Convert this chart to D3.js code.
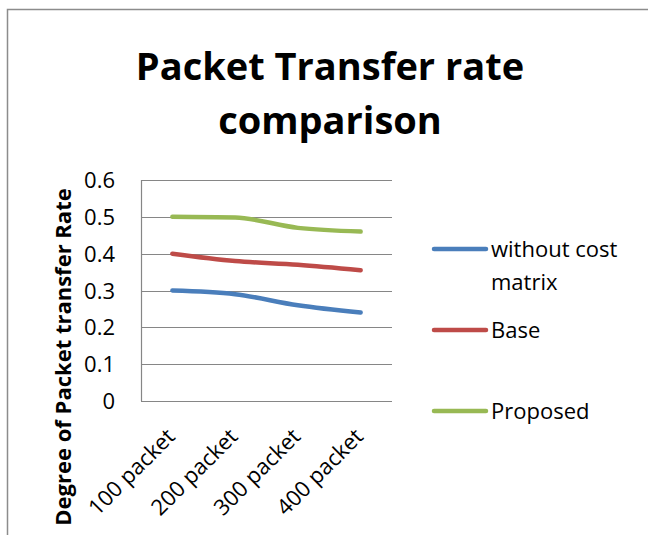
<!DOCTYPE html>
<html>
<head>
<meta charset="utf-8">
<script src="https://cdn.jsdelivr.net/npm/d3@7/dist/d3.min.js"></script>
<style>
  html, body { margin: 0; padding: 0; background: #fff; overflow: hidden; }
  svg { display: block; }
  text { font-family: "Open Sans", "Noto Sans", sans-serif; fill: #000; }
</style>
</head>
<body>
<svg id="chart" width="648" height="535"></svg>
<script>
// Data
const categories = ["100 packet", "200 packet", "300 packet", "400 packet"];
const seriesNames = ["without cost matrix", "Base", "Proposed"];
const withoutCost = [0.30, 0.29, 0.26, 0.24];
const base = [0.40, 0.38, 0.37, 0.355];
const proposed = [0.50, 0.498, 0.47, 0.46];
const yTicks = [0, 0.1, 0.2, 0.3, 0.4, 0.5, 0.6];
const colors = ["#4a7ebb", "#be4b48", "#98b954"];

const svg = d3.select("#chart");
const W = 648, H = 535;
const plot = { left: 141, right: 392, top: 180, bottom: 401 };

// Outer chart frame (top and left edges are visible)
svg.append("path")
  .attr("d", `M7.5,${H + 20}V9.5H${W + 50}`)
  .attr("fill", "none").attr("stroke", "#8c8c8c").attr("stroke-width", 1.5);

// Title
const title = svg.append("text")
  .attr("text-anchor", "middle")
  .attr("font-weight", "bold")
  .attr("font-size", 38);
title.append("tspan").attr("x", 330).attr("y", 80).text("Packet Transfer rate");
title.append("tspan").attr("x", 330).attr("y", 134).text("comparison");

const x = d3.scaleBand().domain(categories).range([plot.left, plot.right]);
const y = d3.scaleLinear().domain([0, 0.6]).range([plot.bottom, plot.top]);

// Gridlines
svg.append("g")
  .selectAll("line")
  .data(yTicks.filter(t => t > 0))
  .join("line")
  .attr("x1", plot.left).attr("x2", plot.right)
  .attr("y1", d => Math.round(y(d)) + 0.5).attr("y2", d => Math.round(y(d)) + 0.5)
  .attr("stroke", "#868686").attr("stroke-width", 1.2);

// Axis lines
svg.append("line")
  .attr("x1", plot.left + 0.5).attr("x2", plot.left + 0.5)
  .attr("y1", plot.top).attr("y2", plot.bottom)
  .attr("stroke", "#868686").attr("stroke-width", 1.2);
svg.append("line")
  .attr("x1", plot.left).attr("x2", plot.right)
  .attr("y1", plot.bottom + 0.5).attr("y2", plot.bottom + 0.5)
  .attr("stroke", "#868686").attr("stroke-width", 1.2);

// Y tick labels
svg.append("g")
  .selectAll("text")
  .data(yTicks)
  .join("text")
  .attr("x", 115)
  .attr("y", d => y(d) + 8)
  .attr("text-anchor", "end")
  .attr("font-size", 22)
  .text(d => d === 0 ? "0" : d3.format(".1f")(d));

// X tick labels, rotated
svg.append("g")
  .selectAll("text")
  .data(categories)
  .join("text")
  .attr("text-anchor", "end")
  .attr("font-size", 22)
  .attr("transform", d => `translate(${x(d) + x.bandwidth() / 2 + 4},${plot.bottom + 37}) rotate(-45)`)
  .text(d => d);

// Y axis title
svg.append("text")
  .attr("text-anchor", "middle")
  .attr("font-weight", "bold")
  .attr("font-size", 22)
  .attr("transform", `translate(71,357) rotate(-90)`)
  .text("Degree of Packet transfer Rate");

// Series lines
const line = d3.line()
  .x((d, i) => x(categories[i]) + x.bandwidth() / 2)
  .y(d => y(d))
  .curve(d3.curveMonotoneX);

const allSeries = [withoutCost, base, proposed];
svg.append("g")
  .selectAll("path")
  .data(allSeries)
  .join("path")
  .attr("d", d => line(d))
  .attr("fill", "none")
  .attr("stroke", (d, i) => colors[i])
  .attr("stroke-width", 4.5)
  .attr("stroke-linecap", "round");

// Legend
const legendY = [249, 330, 411];
const lg = svg.append("g");
lg.selectAll("line")
  .data(seriesNames)
  .join("line")
  .attr("x1", 434).attr("x2", 486)
  .attr("y1", (d, i) => legendY[i]).attr("y2", (d, i) => legendY[i])
  .attr("stroke", (d, i) => colors[i])
  .attr("stroke-width", 4.5)
  .attr("stroke-linecap", "round");

const lt = lg.selectAll("text")
  .data(seriesNames)
  .join("text")
  .attr("x", 491)
  .attr("y", (d, i) => legendY[i] + 8)
  .attr("font-size", 22);
lt.each(function(d, i) {
  const t = d3.select(this);
  if (i === 0) {
    t.append("tspan").attr("x", 491).text("without cost");
    t.append("tspan").attr("x", 491).attr("dy", 33).text("matrix");
  } else {
    t.text(d);
  }
});
</script>
</body>
</html>
